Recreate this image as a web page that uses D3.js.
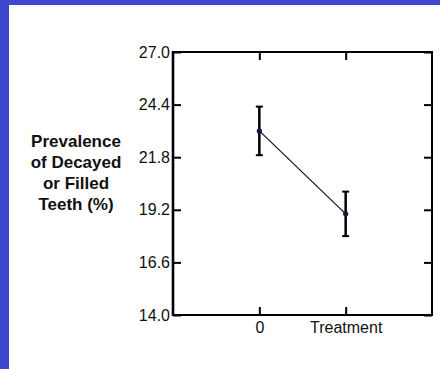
<!DOCTYPE html>
<html>
<head>
<meta charset="utf-8">
<script src="https://cdn.jsdelivr.net/npm/d3@7"></script>
<style>
  html, body { margin: 0; padding: 0; background: #ffffff; }
  svg { display: block; }
  text { font-family: "Liberation Sans", Arial, Helvetica, sans-serif; fill: #111; }
</style>
</head>
<body>
<script>
// Groups on the horizontal axis
const categories = ["0", "Treatment"];
// Mean prevalence of decayed or filled teeth (%) per group
const means = [23.1, 19.0];
// Half-width of the error bar per group
const errors = [1.2, 1.1];
// Vertical axis ticks
const yTicks = [14.0, 16.6, 19.2, 21.8, 24.4, 27.0];
// Axis title, one entry per line
const yTitle = ["Prevalence", "of Decayed", "or Filled", "Teeth (%)"];

const W = 440, H = 369;
const plot = { left: 173, right: 432, top: 52, bottom: 315 };

const svg = d3.select("body").append("svg")
  .attr("width", W).attr("height", H);

// Page background and blue border strips
svg.append("rect").attr("width", W).attr("height", H).attr("fill", "#ffffff");
svg.append("rect").attr("x", 0).attr("y", 0).attr("width", W).attr("height", 5).attr("fill", "#4048cf");
svg.append("rect").attr("x", 0).attr("y", 0).attr("width", 9).attr("height", H).attr("fill", "#3e46ca");

const x = d3.scalePoint()
  .domain(categories)
  .range([plot.left, plot.right])
  .padding(1);

const y = d3.scaleLinear()
  .domain([yTicks[0], yTicks[yTicks.length - 1]])
  .range([plot.bottom, plot.top]);

const tickLen = 8;
const fmt = d3.format(".1f");

// Left axis: inward ticks, labels to the left
const gLeft = svg.append("g").attr("transform", `translate(${plot.left},0)`)
  .call(d3.axisLeft(y).tickValues(yTicks).tickFormat(fmt).tickSizeInner(-tickLen).tickSizeOuter(0).tickPadding(3));
gLeft.select(".domain").remove();
gLeft.selectAll(".tick line").attr("stroke", "#000").attr("stroke-width", 2);
gLeft.selectAll(".tick text")
  .attr("x", -3)
  .attr("dy", "0.32em")
  .attr("text-anchor", "end")
  .style("font-size", "16px");

// Right axis: mirrored inward ticks, no labels
const gRight = svg.append("g").attr("transform", `translate(${plot.right},0)`)
  .call(d3.axisRight(y).tickValues(yTicks).tickFormat("").tickSizeInner(-tickLen).tickSizeOuter(0));
gRight.select(".domain").remove();
gRight.selectAll(".tick line").attr("stroke", "#000").attr("stroke-width", 2);

// Bottom axis: inward ticks, category labels below
const gBottom = svg.append("g").attr("transform", `translate(0,${plot.bottom})`)
  .call(d3.axisBottom(x).tickSizeInner(-tickLen).tickSizeOuter(0));
gBottom.select(".domain").remove();
gBottom.selectAll(".tick line").attr("stroke", "#000").attr("stroke-width", 2);
gBottom.selectAll(".tick text")
  .attr("y", 18)
  .attr("dy", 0)
  .style("font-size", "16px");

// Top axis: mirrored inward ticks
const gTop = svg.append("g").attr("transform", `translate(0,${plot.top})`)
  .call(d3.axisTop(x).tickFormat("").tickSizeInner(-tickLen).tickSizeOuter(0));
gTop.select(".domain").remove();
gTop.selectAll(".tick line").attr("stroke", "#000").attr("stroke-width", 2);

// Plot frame
svg.append("rect")
  .attr("x", plot.left).attr("y", plot.top)
  .attr("width", plot.right - plot.left).attr("height", plot.bottom - plot.top)
  .attr("fill", "none").attr("stroke", "#000").attr("stroke-width", 2);
// Heavier left axis line
svg.append("line")
  .attr("x1", plot.left).attr("x2", plot.left)
  .attr("y1", plot.top - 1).attr("y2", plot.bottom + 1)
  .attr("stroke", "#000").attr("stroke-width", 2.6);

const pts = categories.map((c, i) => ({ c, m: means[i], e: errors[i] }));

// Line joining the group means
svg.append("path")
  .datum(pts)
  .attr("fill", "none")
  .attr("stroke", "#111")
  .attr("stroke-width", 1.2)
  .attr("d", d3.line().x(d => x(d.c)).y(d => y(d.m)));

// Error bars with caps
const eb = svg.append("g").selectAll("g").data(pts).join("g");
eb.append("line")
  .attr("x1", d => x(d.c)).attr("x2", d => x(d.c))
  .attr("y1", d => y(d.m + d.e)).attr("y2", d => y(d.m - d.e))
  .attr("stroke", "#000").attr("stroke-width", 2.5);
eb.append("line")
  .attr("x1", d => x(d.c) - 3.5).attr("x2", d => x(d.c) + 3.5)
  .attr("y1", d => y(d.m + d.e)).attr("y2", d => y(d.m + d.e))
  .attr("stroke", "#000").attr("stroke-width", 2);
eb.append("line")
  .attr("x1", d => x(d.c) - 3.5).attr("x2", d => x(d.c) + 3.5)
  .attr("y1", d => y(d.m - d.e)).attr("y2", d => y(d.m - d.e))
  .attr("stroke", "#000").attr("stroke-width", 2);

// Mean markers
svg.append("g").selectAll("circle").data(pts).join("circle")
  .attr("cx", d => x(d.c)).attr("cy", d => y(d.m))
  .attr("r", 2.6)
  .attr("fill", "#16163a");

// Multi-line bold axis title
const title = svg.append("text")
  .attr("text-anchor", "middle")
  .style("font-size", "17px")
  .style("font-weight", "bold");
yTitle.forEach((line, i) => {
  title.append("tspan")
    .attr("x", 76)
    .attr("y", 147 + i * 21)
    .text(line);
});
</script>
</body>
</html>
